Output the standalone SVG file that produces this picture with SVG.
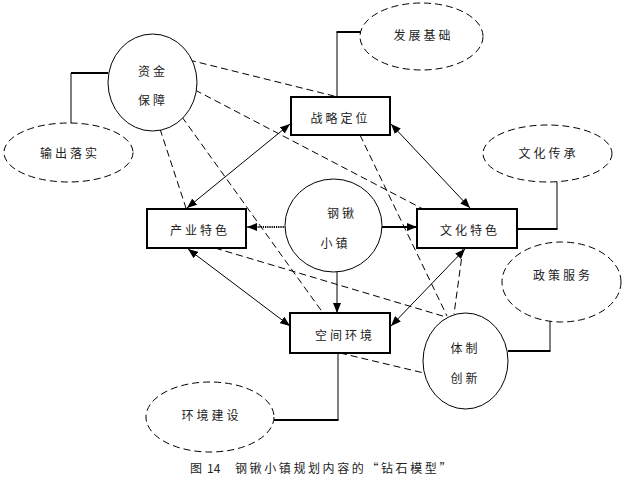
<svg xmlns="http://www.w3.org/2000/svg" width="630" height="479" viewBox="0 0 630 479">
<style>
text{font-family:"Noto Sans CJK SC","Noto Sans",sans-serif;font-size:12px;fill:#222;dominant-baseline:central;text-anchor:middle;letter-spacing:3px}
.box{fill:#fff;stroke:#000;stroke-width:2}
.circ{fill:#fff;stroke:#000;stroke-width:1}
.dell{fill:#fff;stroke:#000;stroke-width:1;stroke-dasharray:7,4}
.dash{fill:none;stroke:#000;stroke-width:1;stroke-dasharray:7,4}
.arr{fill:none;stroke:#000;stroke-width:1}
.h{fill:none;stroke:#000;stroke-width:2}
.v{fill:none;stroke:#000;stroke-width:1}
.cap{letter-spacing:2.6px;text-anchor:start}
.num{letter-spacing:0;text-anchor:start}
</style>
<defs>
<marker id="ah" markerUnits="userSpaceOnUse" markerWidth="11" markerHeight="8" refX="10" refY="4" orient="auto-start-reverse">
<path d="M0,0 L10,4 L0,8 z" fill="#000"/>
</marker>
</defs>
<g id="connectors">
<line class="dash" x1="189" y1="60" x2="334" y2="96"/>
<line class="dash" x1="195" y1="90" x2="423" y2="209"/>
<line class="dash" x1="160" y1="129" x2="186" y2="208"/>
<line class="dash" x1="182" y1="117" x2="323" y2="313"/>
<line class="dash" x1="360" y1="135" x2="447" y2="316"/>
<line class="dash" x1="463" y1="248" x2="454" y2="314"/>
<line class="dash" x1="215" y1="248" x2="446" y2="317"/>
<line class="dash" x1="340" y1="353" x2="424" y2="373"/>
<line class="arr" x1="290" y1="124" x2="187" y2="208" marker-start="url(#ah)" marker-end="url(#ah)"/>
<line class="arr" x1="391" y1="124" x2="470" y2="208" marker-start="url(#ah)" marker-end="url(#ah)"/>
<line class="arr" x1="188" y1="249" x2="290" y2="326" marker-start="url(#ah)" marker-end="url(#ah)"/>
<line class="arr" x1="465" y1="249" x2="391" y2="326" marker-start="url(#ah)" marker-end="url(#ah)"/>
<line x1="286" y1="227" x2="247" y2="227" stroke="#000" stroke-width="2" stroke-dasharray="1.2,1" marker-end="url(#ah)"/>
<line x1="382" y1="227" x2="417" y2="227" stroke="#000" stroke-width="2" marker-end="url(#ah)"/>
<line class="arr" x1="337" y1="272" x2="337" y2="313" marker-end="url(#ah)"/>
<line class="h" x1="108" y1="73" x2="71" y2="73"/>
<line class="v" x1="71" y1="73" x2="71" y2="124"/>
<line class="v" x1="337" y1="97" x2="337" y2="32"/>
<line class="h" x1="336.5" y1="32" x2="361" y2="32"/>
<line class="h" x1="517" y1="229" x2="557.5" y2="229"/>
<line class="v" x1="557" y1="229" x2="557" y2="182"/>
<line class="h" x1="508" y1="351" x2="550.5" y2="351"/>
<line class="v" x1="550" y1="351" x2="550" y2="321"/>
<line class="v" x1="338" y1="353" x2="338" y2="420"/>
<line class="h" x1="338.5" y1="420" x2="274" y2="420"/>
</g>
<g id="n-zijin"><ellipse class="circ" cx="152.5" cy="82.5" rx="44.5" ry="48.5"/><text x="153" y="70">资金</text><text x="153" y="99">保障</text></g>
<g id="n-gangqiao"><ellipse class="circ" cx="333.5" cy="225.5" rx="48.5" ry="46.5"/><text x="342" y="212.5">钢锹</text><text x="335.5" y="242.5">小镇</text></g>
<g id="n-tizhi"><ellipse class="circ" cx="465.5" cy="361" rx="42.5" ry="48"/><text x="465.5" y="347.5">体制</text><text x="465.5" y="377.5">创新</text></g>
<g id="n-zhanlue"><rect class="box" x="291" y="97" width="99" height="38"/><text x="340.5" y="117">战略定位</text></g>
<g id="n-chanye"><rect class="box" x="147" y="209" width="99" height="39"/><text x="200" y="229.5">产业特色</text></g>
<g id="n-wenhua"><rect class="box" x="417" y="209" width="100" height="39"/><text x="470" y="229.5">文化特色</text></g>
<g id="n-kongjian"><rect class="box" x="290" y="313" width="100" height="40"/><text x="345" y="334">空间环境</text></g>
<g id="n-fazhan"><ellipse class="dell" cx="421.5" cy="36.5" rx="61.5" ry="33.5"/><text x="423.5" y="34">发展基础</text></g>
<g id="n-shuchu"><ellipse class="dell" cx="68.5" cy="152.5" rx="64.5" ry="29.5"/><text x="70" y="152">输出落实</text></g>
<g id="n-wenhuachuancheng"><ellipse class="dell" cx="547.5" cy="153.5" rx="64.5" ry="28.5"/><text x="548.5" y="152.5">文化传承</text></g>
<g id="n-zhengce"><ellipse class="dell" cx="561.5" cy="282" rx="59.5" ry="40"/><text x="563" y="274">政策服务</text></g>
<g id="n-huanjing"><ellipse class="dell" cx="210" cy="417" rx="64" ry="35"/><text x="211.5" y="414">环境建设</text></g>
<text class="cap" x="190" y="467">图</text>
<text class="num" x="207" y="467">14</text>
<text class="cap" x="235" y="467">钢锹小镇规划内容的“钻石模型”</text>
</svg>
